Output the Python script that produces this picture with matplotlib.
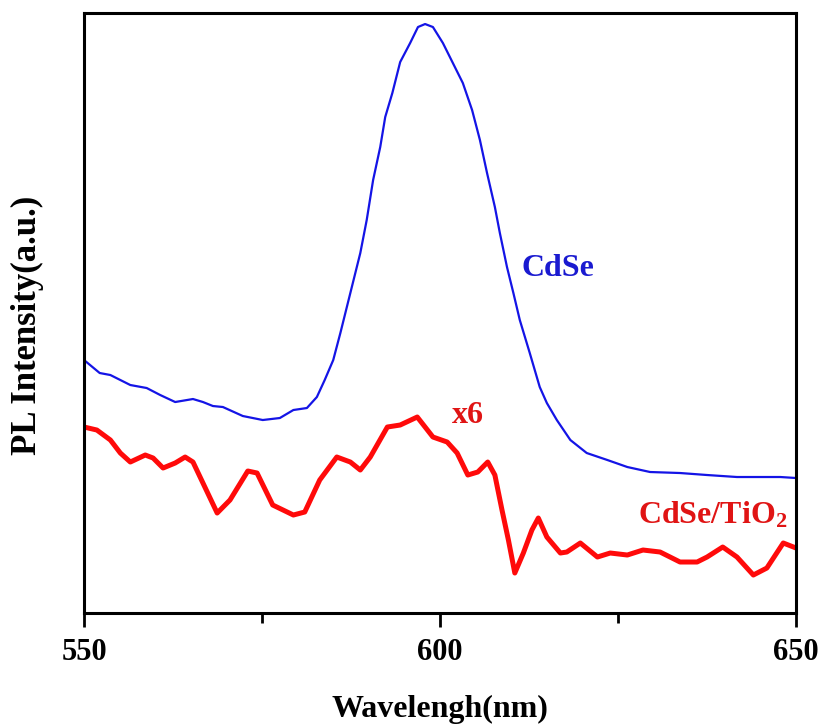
import matplotlib
matplotlib.use('Agg')
import matplotlib.pyplot as plt
from matplotlib.ticker import MultipleLocator

# === Data (intensity in arbitrary units) ===
wl_cdse = [550.0, 552.2, 553.7, 556.5, 558.8, 560.7, 562.8, 565.3, 566.7, 568.1,
           569.5, 572.3, 575.1, 577.5, 579.4, 581.3, 582.7, 583.8, 585.0, 586.0,
           587.4, 588.8, 589.7, 590.6, 591.6, 592.3, 593.3, 594.4, 595.8, 596.9,
           597.9, 599.0, 600.4, 601.8, 603.2, 604.5, 605.6, 606.6, 607.7, 608.4,
           609.4, 610.3, 611.2, 612.6, 614.0, 615.0, 616.4, 618.3, 620.6, 623.5,
           626.3, 629.5, 633.7, 637.5, 641.7, 647.8, 650.0]
pl_cdse = [253, 240, 238, 228, 225, 218, 211, 214, 211, 207,
           206, 197, 193, 195, 203, 205, 216, 233, 253, 280,
           320, 360, 393, 433, 466, 496, 520, 551, 570, 586,
           589, 586, 570, 550, 530, 503, 473, 440, 406, 380,
           346, 320, 293, 260, 226, 210, 193, 173, 160, 153,
           146, 141, 140, 138, 136, 136, 135]

wl_tio2 = [550.0, 551.8, 553.7, 555.1, 556.5, 558.6, 559.7, 561.1, 562.8, 564.2,
           565.3, 566.7, 568.7, 570.5, 573.0, 574.3, 576.5, 579.4, 581.0, 583.1,
           585.5, 587.4, 588.8, 590.2, 592.6, 594.4, 596.8, 599.0, 601.0, 602.4,
           603.9, 605.3, 606.7, 607.7, 608.7, 609.6, 610.5, 611.7, 612.9, 613.8,
           615.0, 616.9, 617.8, 619.7, 622.1, 623.9, 626.3, 628.5, 630.9, 633.7,
           636.1, 637.5, 639.7, 641.7, 644.0, 645.9, 648.2, 650.0]
pl_tio2 = [186, 183, 173, 160, 151, 158, 155, 145, 150, 156,
           151, 130, 100, 113, 142, 140, 108, 98, 101, 133,
           156, 151, 143, 156, 186, 188, 196, 176, 171, 160,
           138, 141, 151, 138, 103, 73, 40, 60, 83, 95,
           76, 60, 61, 70, 56, 60, 58, 63, 61, 51,
           51, 56, 66, 56, 38, 45, 70, 65]

plt.rcParams['font.family'] = ['Liberation Serif', 'DejaVu Serif']
plt.rcParams['font.weight'] = 'bold'
plt.rcParams['mathtext.fontset'] = 'custom'
plt.rcParams['mathtext.rm'] = 'Liberation Serif:bold'

fig = plt.figure(figsize=(8.19, 7.24), dpi=100)
ax = fig.add_axes([0.1026, 0.1533, 0.8694, 0.8287])

ax.plot(wl_cdse, pl_cdse, color='#1414e6', lw=1.6)
ax.plot(wl_tio2, pl_tio2, color='#ff0a0a', lw=3.6, solid_joinstyle='round')

ax.set_xlim(550, 650)
ax.set_ylim(0, 600)

ax.xaxis.set_major_locator(MultipleLocator(50))
ax.xaxis.set_minor_locator(MultipleLocator(25))
ax.tick_params(axis='x', which='major', direction='out', length=10, width=2,
               labelsize=22, pad=8)
ax.tick_params(axis='x', which='minor', direction='out', length=7, width=2)
ax.set_yticks([])
for sp in ax.spines.values():
    sp.set_linewidth(2.2)

ax.set_xlabel('Wavelengh(nm)', fontsize=23, fontweight='bold', va='baseline')
ax.xaxis.set_label_coords(0.5, -0.173)
ax.set_ylabel('PL Intensity(a.u.)', fontsize=25, fontweight='bold', va='center')
ax.yaxis.set_label_coords(-0.080, 0.48)

ax.text(611.5, 337, 'CdSe', color='#1a1ad0', fontsize=23, fontweight='bold',
        ha='left', va='baseline')
ax.text(601.7, 190, 'x6', color='#e01414', fontsize=23, fontweight='bold',
        ha='left', va='baseline')
ax.text(627.8, 90, r'CdSe/TiO$\mathrm{_2}$', color='#e01414', fontsize=23,
        fontweight='bold', ha='left', va='baseline')

fig.savefig('out.png', dpi=100)
